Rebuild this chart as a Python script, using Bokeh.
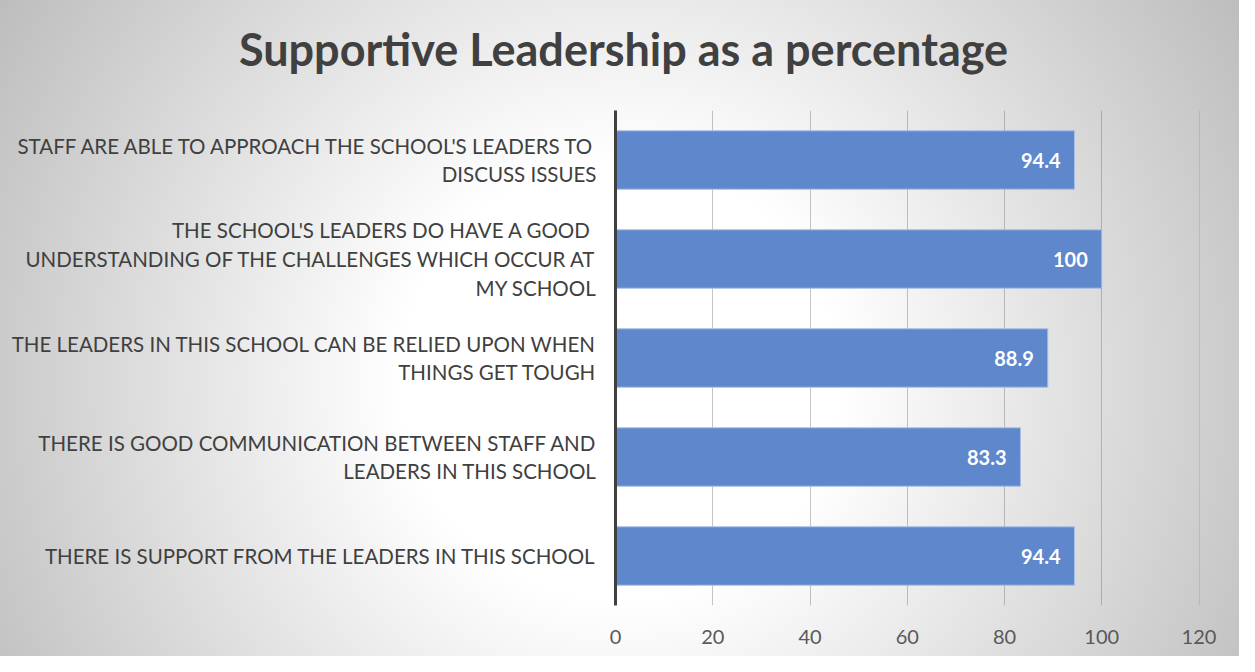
from bokeh.plotting import figure
from bokeh.models import ColumnDataSource, LabelSet, Label, Range1d, FactorRange, FixedTicker
from bokeh.core.properties import value
from bokeh.embed import file_html
from bokeh.resources import INLINE

categories = [
    "STAFF ARE ABLE TO APPROACH THE SCHOOL'S LEADERS TO\nDISCUSS ISSUES",
    "THE SCHOOL'S LEADERS DO HAVE  A GOOD\nUNDERSTANDING OF THE CHALLENGES WHICH OCCUR AT\nMY SCHOOL",
    "THE LEADERS IN THIS SCHOOL CAN BE RELIED UPON WHEN\nTHINGS GET TOUGH",
    "THERE IS GOOD COMMUNICATION BETWEEN STAFF AND\nLEADERS IN THIS SCHOOL",
    "THERE IS SUPPORT FROM THE LEADERS IN THIS SCHOOL",
]
values = [94.4, 100, 88.9, 83.3, 94.4]
value_labels = ["94.4", "100", "88.9", "83.3", "94.4"]
x_ticks = [0, 20, 40, 60, 80, 100, 120]
title_text = "Supportive Leadership as a percentage"

FONT = "Lato"

src = ColumnDataSource(dict(cat=categories, val=values, lab=value_labels))

p = figure(
    width=1239, height=656,
    y_range=FactorRange(factors=list(reversed(categories))),
    x_range=Range1d(0, 120.1),
    output_backend="svg", toolbar_location=None,
    min_border_left=615, min_border_right=40, min_border_top=110, min_border_bottom=51,
)
p.styles = {"background": "radial-gradient(circle farthest-corner at 50% 58%, #ffffff 0%, #ffffff 30%, #bdbdbd 100%)"}
p.background_fill_color = None
p.border_fill_color = None
p.outline_line_color = None

p.hbar(y="cat", right="val", left=0, height=0.59, source=src,
       fill_color="#5E87CC", line_color="#a9bfe6", line_width=1)

labels = LabelSet(x="val", y="cat", text="lab", source=src, x_offset=-14,
                  text_align="right", text_baseline="middle",
                  text_color="white", text_font_style="bold",
                  text_font_size="20px", text_font=value(FONT))
p.add_layout(labels)

# axes
p.xaxis.ticker = FixedTicker(ticks=x_ticks)
p.xaxis.axis_line_color = None
p.xaxis.major_tick_line_color = None
p.xaxis.minor_tick_line_color = None
p.xaxis.major_label_text_font = FONT
p.xaxis.major_label_text_font_size = "20px"
p.xaxis.major_label_text_color = "#595959"
p.xaxis.major_label_standoff = 18

p.yaxis.axis_line_color = "#404040"
p.yaxis.axis_line_width = 3
p.yaxis.major_tick_line_color = None
p.yaxis.minor_tick_line_color = None
p.yaxis.major_label_text_font = FONT
p.yaxis.major_label_text_font_size = "20.5px"
p.yaxis.major_label_text_color = "#404040"
p.yaxis.major_label_standoff = 13

p.xgrid.ticker = FixedTicker(ticks=x_ticks)
p.xgrid.grid_line_color = "#6f6f6f"
p.xgrid.grid_line_alpha = 0.4
p.ygrid.grid_line_color = None

title = Label(x=8, y=62, x_units="screen", y_units="screen", text=title_text,
              text_align="center", text_baseline="middle", text_font=FONT,
              text_font_size="45px", text_font_style="bold", text_color="#404040")
p.add_layout(title, "above")

open("out.html", "w").write(file_html(p, INLINE))
